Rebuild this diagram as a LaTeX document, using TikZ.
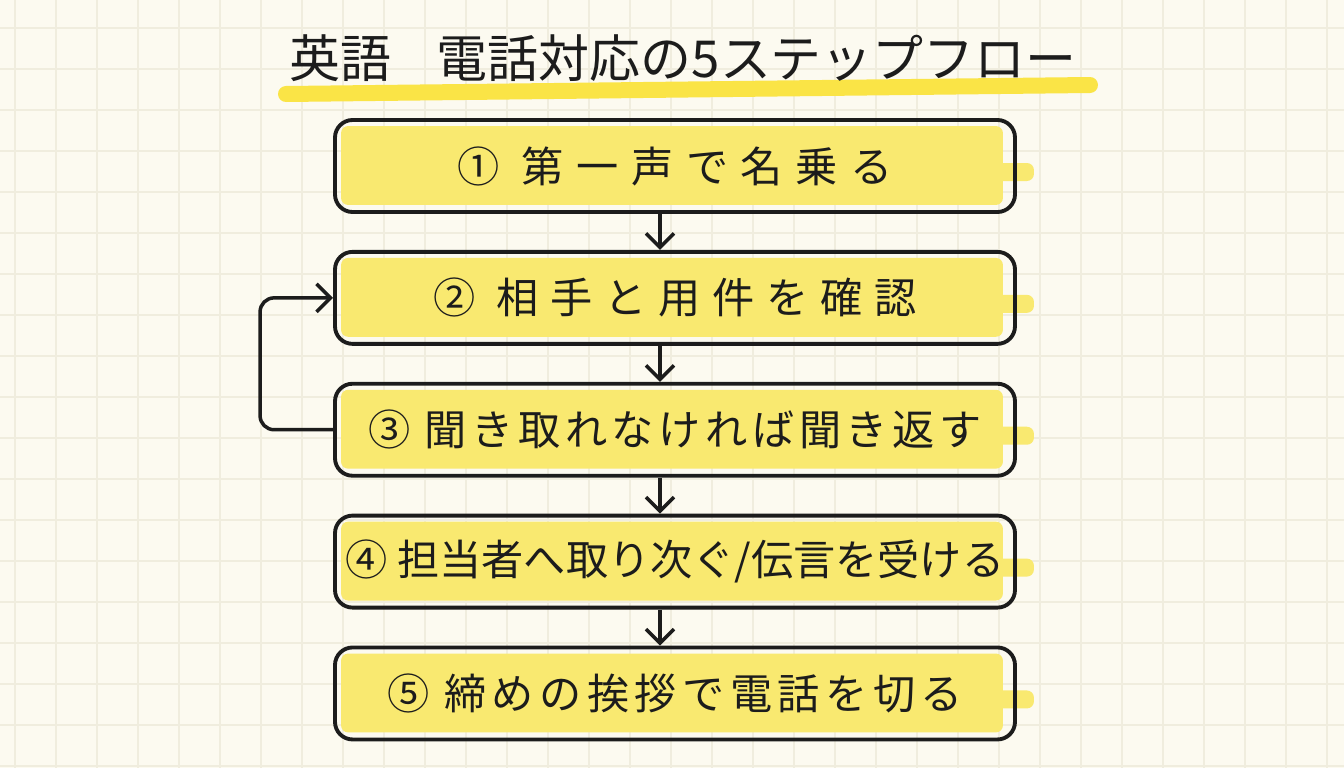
\documentclass[tikz,border=0pt]{standalone}
\usepackage{fontspec}
\setmainfont{Noto Sans CJK JP}
\usepackage{tikz}
\usetikzlibrary{arrows.meta, positioning, backgrounds}
\definecolor{paper}{RGB}{252,250,240}
\definecolor{gridline}{RGB}{240,237,222}
\definecolor{marker}{RGB}{249,233,112}
\definecolor{titlemarker}{RGB}{250,228,70}
\definecolor{ink}{RGB}{28,28,28}

\begin{document}
\begin{tikzpicture}[
  every node/.style={font=\fontsize{12}{14}\selectfont, text=ink},
  stepbox/.style={draw=ink, line width=1.1pt, rounded corners=5pt,
    minimum width=6.8cm, minimum height=0.92cm, inner sep=0pt},
  flow/.style={draw=ink, line width=1pt, -{Straight Barb[length=1.4mm, width=2.8mm]}},
  spaced/.style={execute at begin node={\addfontfeature{LetterSpace=#1}}},
  node distance=0.36cm
]
  \useasboundingbox (0,0) rectangle (13.44,-7.68);

  \node (title) at (6.83,-0.58) {\fontsize{14.5}{18}\selectfont 英語\hspace{0.9em}電話対応の5ステップフロー};

  \node[stepbox, spaced=30] (b1) at (6.75,-1.66) {① 第一声で名乗る};
  \node[stepbox, spaced=28, below=of b1] (b2) {② 相手と用件を確認};
  \node[stepbox, spaced=11, below=of b2] (b3) {③ 聞き取れなければ聞き返す};
  \node[stepbox, spaced=0, below=of b3] (b4) {④ 担当者へ取り次ぐ/伝言を受ける};
  \node[stepbox, spaced=13, below=of b4] (b5) {⑤ 締めの挨拶で電話を切る};

  \draw[flow] ([xshift=-1.5mm]b1.south) -- ([xshift=-1.5mm]b2.north);
  \draw[flow] ([xshift=-1.5mm]b2.south) -- ([xshift=-1.5mm]b3.north);
  \draw[flow] ([xshift=-1.5mm]b3.south) -- ([xshift=-1.5mm]b4.north);
  \draw[flow] ([xshift=-1.5mm]b4.south) -- ([xshift=-1.5mm]b5.north);
  % back to step 2
  \draw[flow, rounded corners=4pt] (b3.west) -- ++(-0.73,0) |- (b2.west);

  \begin{scope}[on background layer]
    \fill[paper] (0,0) rectangle (13.44,-7.68);
    \foreach \k in {0,...,32}
      \draw[gridline, line width=0.6pt] ({0.15+0.41*\k},0) -- ++(0,-7.68);
    \foreach \k in {0,...,18}
      \draw[gridline, line width=0.6pt] (0,{-0.28-0.41*\k}) -- ++(13.44,0);
    \draw[titlemarker, line width=1.6mm, line cap=round] (2.86,-0.94) -- (10.90,-0.85);
    \foreach \b in {b1,b2,b3,b4,b5} {
      \fill[marker, rounded corners=2pt] ([xshift=0.08cm,yshift=-0.08cm]\b.north west)
        rectangle ([xshift=-0.14cm,yshift=0.09cm]\b.south east);
      \fill[marker, rounded corners=2pt] ([xshift=-0.3cm,yshift=0.03cm]\b.east)
        rectangle ([xshift=0.17cm,yshift=-0.15cm]\b.east);
    }
  \end{scope}
\end{tikzpicture}
\end{document}
